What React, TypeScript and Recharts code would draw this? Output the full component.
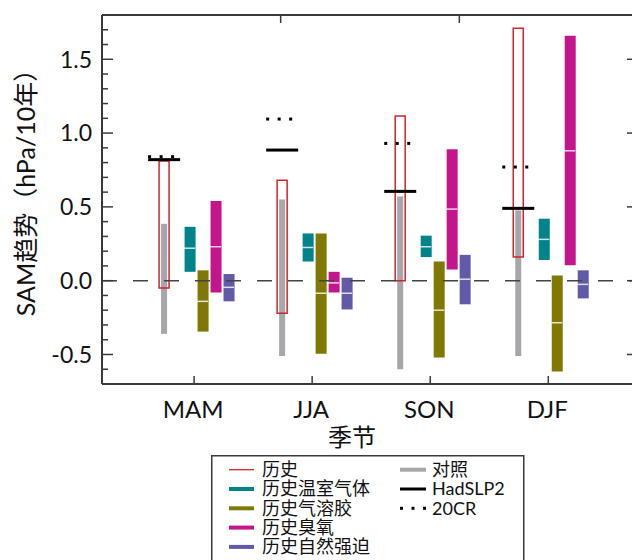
import React from 'react';
import { ComposedChart, Bar, Scatter, XAxis, YAxis, ReferenceLine, Legend, Label } from 'recharts';

// seasons along the x axis
const seasons = ['MAM', 'JJA', 'SON', 'DJF'];
const seasonPos = [1, 2, 3, 4];

// ranges (hPa / decade)
const histLow = [-0.05, -0.22, 0.0, 0.16];
const histHigh = [0.81, 0.68, 1.115, 1.71];
const ctrlLow = [-0.36, -0.51, -0.6, -0.51];
const ctrlHigh = [0.385, 0.55, 0.57, 0.475];
const ghgLow = [0.06, 0.13, 0.16, 0.14];
const ghgHigh = [0.365, 0.32, 0.305, 0.42];
const ghgMed = [0.22, 0.225, 0.23, 0.28];
const aerLow = [-0.345, -0.495, -0.52, -0.615];
const aerHigh = [0.07, 0.32, 0.13, 0.035];
const aerMed = [-0.14, -0.085, -0.2, -0.285];
const ozLow = [-0.08, -0.08, 0.075, 0.105];
const ozHigh = [0.54, 0.06, 0.89, 1.66];
const ozMed = [0.23, -0.015, 0.485, 0.88];
const natLow = [-0.14, -0.195, -0.16, -0.12];
const natHigh = [0.045, 0.02, 0.175, 0.07];
const natMed = [-0.045, -0.085, 0.01, -0.025];
const hadslp2 = [0.82, 0.885, 0.605, 0.49];
const cr20 = [0.84, 1.095, 0.93, 0.77];

const yTicks = [-0.7, -0.6, -0.5, -0.4, -0.3, -0.2, -0.1, 0, 0.1, 0.2, 0.3, 0.4, 0.5, 0.6, 0.7, 0.8, 0.9, 1, 1.1, 1.2, 1.3, 1.4, 1.5, 1.6, 1.7, 1.8];
const yLabels = [-0.5, 0, 0.5, 1, 1.5];
const topTicks = [1, 2, 3];

const legendLeft = ['历史', '历史温室气体', '历史气溶胶', '历史臭氧', '历史自然强迫'];
const legendRight = ['对照', 'HadSLP2', '20CR'];

const FONT = "Lato, 'Noto Sans CJK SC', sans-serif";
const AXIS = '#3a3a3a';
const C = {
  hist: '#d2232a',
  ctrl: '#a7a7ab',
  ghg: '#00838a',
  aer: '#807800',
  oz: '#c4168c',
  nat: '#605aa8',
};

const X_DOMAIN = [0.22, 4.76];
// where each box sits relative to the season tick (x units)
const shift: Record<string, number> = { hist: -0.254, ctrl: -0.254, ghg: -0.038, aer: 0.072, oz: 0.182, nat: 0.292 };
const shiftedDomain = (k: string) => [X_DOMAIN[0] - shift[k], X_DOMAIN[1] - shift[k]];

const data = seasons.map((s, i) => ({
  season: s,
  pos: seasonPos[i],
  hist: [histLow[i], histHigh[i]],
  ctrl: [ctrlLow[i], ctrlHigh[i]],
  ghg: [ghgLow[i], ghgHigh[i]],
  aer: [aerLow[i], aerHigh[i]],
  oz: [ozLow[i], ozHigh[i]],
  nat: [natLow[i], natHigh[i]],
  ghgMed: ghgMed[i],
  aerMed: aerMed[i],
  ozMed: ozMed[i],
  natMed: natMed[i],
  had: hadslp2[i],
  cr: cr20[i],
}));

const LeftTick = ({ x, y, payload }: any) => {
  const major = yLabels.includes(payload.value);
  return (
    <g>
      <line x1={x} x2={x + (major ? 11 : 6)} y1={y} y2={y} stroke={AXIS} strokeWidth={1.5} />
      {major && (
        <text x={x - 10} y={y} dy="0.36em" textAnchor="end" fontSize={23} fill="#111" fontFamily={FONT}>
          {payload.value.toFixed(1)}
        </text>
      )}
    </g>
  );
};

const RightTick = ({ x, y, payload }: any) => {
  const major = yLabels.includes(payload.value);
  return <line x1={x} x2={x - (major ? 11 : 6)} y1={y} y2={y} stroke={AXIS} strokeWidth={1.5} />;
};

const BottomTick = ({ x, y, payload }: any) => (
  <g>
    <line x1={x} x2={x} y1={y} y2={y - 8} stroke={AXIS} strokeWidth={1.5} />
    <text x={x - 1} y={y + 34} textAnchor="middle" fontSize={24} fill="#111" fontFamily={FONT}>
      {seasons[seasonPos.indexOf(payload.value)]}
    </text>
  </g>
);

const TopTick = ({ x, y }: any) => <line x1={x} x2={x} y1={y} y2={y + 8} stroke={AXIS} strokeWidth={1.5} />;

const Median = (p: any) => (
  <line x1={p.cx - 5.5} x2={p.cx + 5.5} y1={p.cy} y2={p.cy} stroke="#ffffff" strokeOpacity={0.8} strokeWidth={1.5} />
);
const HadMark = (p: any) => <rect x={p.cx - 16} y={p.cy - 1.5} width={32} height={3} fill="#000" />;
const CrMark = (p: any) => (
  <g>
    {[-14.5, -3, 8.5].map((d) => (
      <rect key={d} x={p.cx + d - 1.5} y={p.cy - 1.5} width={3} height={3} fill="#000" />
    ))}
  </g>
);

const LegendBox = () => {
  const rowY = (i: number) => 14.7 + 19.3 * i;
  const sample = (i: number) => {
    if (i === 0) return <line x1={18} x2={43} y1={rowY(0)} y2={rowY(0)} stroke={C.hist} strokeWidth={1.3} />;
    const col = [C.ghg, C.aer, C.oz, C.nat][i - 1];
    return <line x1={18} x2={43} y1={rowY(i)} y2={rowY(i)} stroke={col} strokeWidth={4} />;
  };
  return (
    <svg width={316} height={112} style={{ display: 'block', fontFamily: FONT }}>
      <rect x={0.75} y={0.75} width={312} height={140} fill="#fff" stroke={AXIS} strokeWidth={1.5} />
      {legendLeft.map((t, i) => (
        <g key={t}>
          {sample(i)}
          <text x={51} y={rowY(i)} dy="0.36em" fontSize={18} fill="#111">{t}</text>
        </g>
      ))}
      <line x1={189} x2={215} y1={rowY(0)} y2={rowY(0)} stroke={C.ctrl} strokeWidth={4} />
      <line x1={189} x2={215} y1={rowY(1)} y2={rowY(1)} stroke="#000" strokeWidth={3} />
      {[190.5, 202, 213.5].map((d) => (
        <rect key={d} x={d - 1.5} y={rowY(2) - 1.5} width={3} height={3} fill="#000" />
      ))}
      {legendRight.map((t, i) => (
        <text key={t} x={221} y={rowY(i)} dy="0.36em" fontSize={18} fill="#111">{t}</text>
      ))}
    </svg>
  );
};

const boxes = ['ghg', 'aer', 'oz', 'nat'];

export default function App() {
  return (
    <div style={{ position: 'fixed', left: 0, top: 0, width: 632, height: 560, overflow: 'hidden', background: '#fff', fontFamily: FONT }}>
      <ComposedChart width={640} height={560} data={data} margin={{ top: 0, right: 0, bottom: 136, left: 0 }}>
        <XAxis xAxisId="main" dataKey="pos" type="number" domain={X_DOMAIN} allowDataOverflow ticks={seasonPos}
          interval={0} tickSize={0} tickMargin={0} height={40} tick={<BottomTick />} axisLine={{ stroke: AXIS, strokeWidth: 2 }}>
          <Label value="季节" position="bottom" offset={5} dx={-18} fontSize={24} fill="#111" fontFamily={FONT} />
        </XAxis>
        <XAxis xAxisId="top" orientation="top" type="number" domain={[-1, 4]} allowDataOverflow ticks={topTicks}
          interval={0} tickSize={0} tickMargin={0} height={15} tick={<TopTick />} axisLine={{ stroke: AXIS, strokeWidth: 2 }} />
        {Object.keys(shift).map((k) => (
          <XAxis key={k} xAxisId={k} dataKey="pos" type="number" domain={shiftedDomain(k)} allowDataOverflow hide height={0} />
        ))}
        <YAxis yAxisId="left" type="number" domain={[-0.7, 1.8]} allowDataOverflow ticks={yTicks} interval={0}
          tickSize={0} tickMargin={0} width={102} tick={<LeftTick />} axisLine={{ stroke: AXIS, strokeWidth: 2 }}>
          <Label value="SAM趋势（hPa/10年）" position="center" angle={-90} dx={-25} dy={-13} fontSize={25} fill="#111" fontFamily={FONT} />
        </YAxis>
        <YAxis yAxisId="right" orientation="right" type="number" domain={[-0.7, 1.8]} allowDataOverflow ticks={yTicks}
          interval={0} tickSize={0} tickMargin={0} width={2} tick={<RightTick />} axisLine={{ stroke: AXIS, strokeWidth: 2 }} />

        <ReferenceLine xAxisId="main" yAxisId="left" y={0} stroke="#444" strokeWidth={1.5} strokeDasharray="15 16" />

        <Bar xAxisId="ctrl" yAxisId="left" dataKey="ctrl" barSize={6} fill={C.ctrl} isAnimationActive={false} legendType="none" />
        <Bar xAxisId="hist" yAxisId="left" dataKey="hist" barSize={10} fill="none" stroke={C.hist} strokeWidth={1.5}
          isAnimationActive={false} legendType="none" />
        {boxes.map((k) => (
          <Bar key={k} xAxisId={k} yAxisId="left" dataKey={k} barSize={11} fill={(C as any)[k]} isAnimationActive={false} legendType="none" />
        ))}
        {boxes.map((k) => (
          <Scatter key={k + 'Med'} xAxisId={k} yAxisId="left" dataKey={k + 'Med'} shape={Median} isAnimationActive={false} legendType="none" />
        ))}
        <Scatter xAxisId="hist" yAxisId="left" dataKey="had" shape={HadMark} isAnimationActive={false} legendType="none" />
        <Scatter xAxisId="hist" yAxisId="left" dataKey="cr" shape={CrMark} isAnimationActive={false} legendType="none" />

        <Legend layout="vertical" align="center" verticalAlign="middle" content={<LegendBox />}
          wrapperStyle={{ left: 211, top: 455, width: 316, height: 112 }} />
      </ComposedChart>
    </div>
  );
}
